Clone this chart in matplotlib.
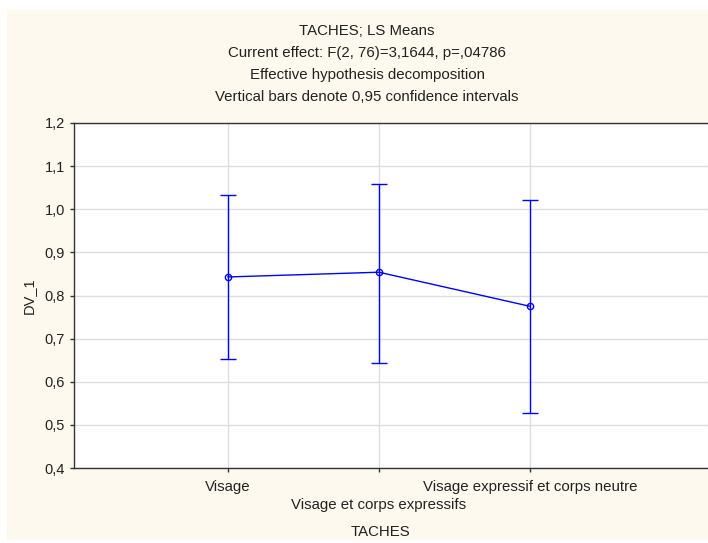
import matplotlib.pyplot as plt
from matplotlib.patches import Rectangle

plt.rcParams['font.family'] = ['Liberation Sans', 'DejaVu Sans']

# data
taches = ["Visage", "Visage et corps expressifs", "Visage expressif et corps neutre"]
moyennes = [0.843, 0.854, 0.775]
ic_haut = [1.033, 1.059, 1.022]
ic_bas = [0.652, 0.644, 0.527]
y_ticks = [0.4, 0.5, 0.6, 0.7, 0.8, 0.9, 1.0, 1.1, 1.2]
y_labels = ["0,4", "0,5", "0,6", "0,7", "0,8", "0,9", "1,0", "1,1", "1,2"]
titre = ["TACHES; LS Means",
         "Current effect: F(2, 76)=3,1644, p=,04786",
         "Effective hypothesis decomposition",
         "Vertical bars denote 0,95 confidence intervals"]

creme = '#FEF9EE'
fs = 10.8
fig = plt.figure(figsize=(7.08, 5.43), dpi=100, facecolor='white')
fond = Rectangle((7/708, 3/543), 1 - 7/708, 1 - 13/543,
                 transform=fig.transFigure, facecolor=creme,
                 edgecolor='none', zorder=-10)
fig.add_artist(fond)

ax = fig.add_axes([74/708, 75/543, 634/708, 345/543])
ax.set_zorder(1)
ax.set_facecolor('white')

x = [1, 2, 3]
err_bas = [m - b for m, b in zip(moyennes, ic_bas)]
err_haut = [h - m for m, h in zip(moyennes, ic_haut)]
ax.errorbar(x, moyennes, yerr=[err_bas, err_haut], color='#0000FF', lw=1,
            marker='o', ms=4.5, mfc='none', mew=1, capsize=5.5, elinewidth=1,
            capthick=1, zorder=3)

ax.set_xlim(-0.02, 4.18)
ax.set_ylim(0.4, 1.2)
ax.set_yticks(y_ticks)
ax.set_yticklabels(y_labels, fontsize=10.5, color='#222222')
ax.set_xticks(x)
ax.set_xticklabels([])
for xi, lab in zip(x, taches):
    dy = -19 if xi == 1 or xi == 3 else -37
    ax.annotate(lab, (xi, 0.4), xytext=(0, dy), textcoords='offset pixels',
                ha='center', va='center', fontsize=fs, color='#222222',
                annotation_clip=False)

ax.grid(True, color='#DDDDDD', lw=1)
ax.set_axisbelow(True)
ax.tick_params(axis='both', direction='out', length=3, width=1, color='#333333')
ax.tick_params(axis='y', right=True)
for s in ['left', 'bottom', 'top']:
    ax.spines[s].set_color('#333333')
    ax.spines[s].set_linewidth(1)
ax.spines['right'].set_color('#DDDDDD')

ax.set_ylabel("DV_1", fontsize=10.5, color='#222222', labelpad=6)
fig.text(380/708, 1 - 532/543, "TACHES", ha='center', va='center',
         fontsize=fs, color='#222222')

for i, t in enumerate(titre):
    fig.text(367/708, 1 - (31 + 22 * i) / 543, t, ha='center', va='center',
             fontsize=fs, color='#222222')

fig.savefig('out.png', dpi=100, facecolor=fig.get_facecolor())
